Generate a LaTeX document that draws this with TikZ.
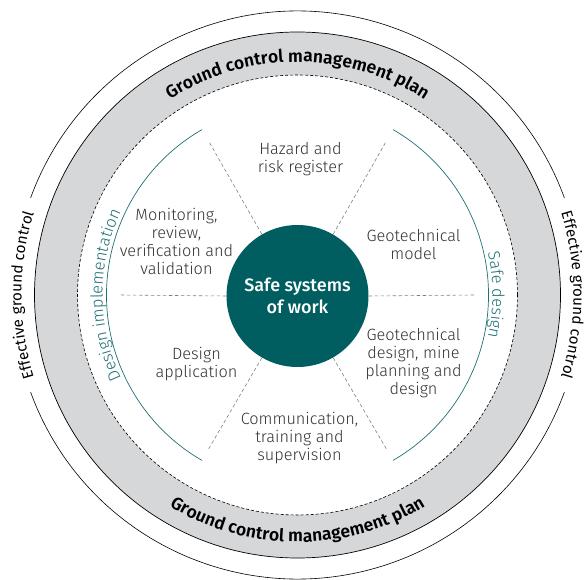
\documentclass[tikz,border=0pt]{standalone}
\usepackage{fontspec}
\setmainfont{Fira Sans}[UprightFont={* Light},BoldFont={* SemiBold}]
\newfontfamily\medfont{Fira Sans Medium}
\newfontfamily\regfont{Fira Sans}
\usetikzlibrary{decorations.text}
\definecolor{wheelteal}{RGB}{0,94,96}
\definecolor{lineteal}{RGB}{30,112,116}
\definecolor{bandgray}{RGB}{214,215,217}
\definecolor{labelgray}{RGB}{50,50,50}

\begin{document}
\begin{tikzpicture}[x=1pt,y=1pt,
  sector/.style={align=center, text=labelgray, font=\fontsize{16.3}{18}\selectfont},
  spoke/.style={gray, line width=0.6pt, dash pattern=on 3.5pt off 2.5pt},
  tealarc/.style={lineteal, line width=0.7pt}]
\useasboundingbox (-297.5,-284) rectangle (289.5,295);
% outer ring, open where the labels sit
\draw[line width=0.6pt] (20:284) arc[start angle=20, end angle=160, radius=284];
\draw[line width=0.6pt] (200:284) arc[start angle=200, end angle=340, radius=284];
\path[decorate, decoration={text along path, text align=center,
  text={|\regfont\fontsize{15.2}{18}\selectfont|Effective ground control}}]
  (203:276) arc[start angle=203, end angle=157, radius=276];
\path[decorate, decoration={text along path, text align=center,
  text={|\regfont\fontsize{15.2}{18}\selectfont|Effective ground control}}]
  (23:276) arc[start angle=23, end angle=-23, radius=276];
% management plan band
\fill[bandgray, even odd rule] (0,0) circle (263) (0,0) circle (220);
\draw[line width=0.7pt] (0,0) circle (263);
\draw[line width=0.6pt, dash pattern=on 3pt off 2pt] (0,0) circle (220);
\path[decorate, decoration={text along path, text align=center,
  text={|\bfseries\fontsize{17.5}{18}\selectfont|Ground control management plan}}]
  (150:233) arc[start angle=150, end angle=30, radius=233];
\path[decorate, decoration={text along path, text align=center,
  text={|\bfseries\fontsize{17.5}{18}\selectfont|Ground control management plan}}]
  (210:247) arc[start angle=210, end angle=330, radius=247];
% design arcs
\draw[tealarc] (120:191) arc[start angle=120, end angle=240, radius=191];
\draw[tealarc] (60:191) arc[start angle=60, end angle=-60, radius=191];
\path[decorate, decoration={text along path, text align=center,
  text={|\color{lineteal}\fontsize{16.5}{18}\selectfont|Design implementation}}]
  (214:195) arc[start angle=214, end angle=146, radius=195];
\path[decorate, decoration={text along path, text align=center,
  text={|\color{lineteal}\fontsize{16.5}{18}\selectfont|Safe design}}]
  (34:195) arc[start angle=34, end angle=-34, radius=195];
% centre and sectors
\node[circle, fill=wheelteal, minimum size=142, inner sep=0, text=white, align=center,
  font=\medfont\fontsize{18}{22}\selectfont] (sw) at (0,-1) {Safe systems\\of work};
\foreach \a in {0,60,...,300}{
  \coordinate (rim\a) at (\a:178);
  \draw[spoke] (sw.\a) -- (rim\a);
}
\node[sector] (hazard) at (3,136) {Hazard and\\risk register};
\node[sector] (monitor) at (-121,54) {Monitoring,\\review,\\verification and\\validation};
\node[sector] (geomodel) at (116,51) {Geotechnical\\model};
\node[sector] (geodesign) at (116,-68) {Geotechnical\\design, mine\\planning and\\design};
\node[sector] (applic) at (-101,-69) {Design\\application};
\node[sector] (comms) at (2,-143) {Communication,\\training and\\supervision};
\end{tikzpicture}
\end{document}
